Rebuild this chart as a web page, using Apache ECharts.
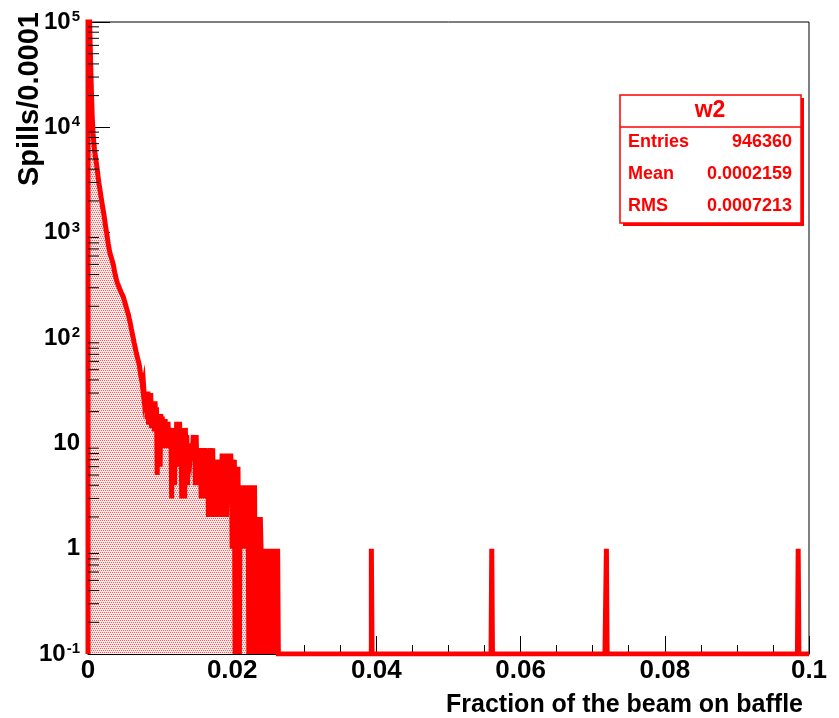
<!DOCTYPE html>
<html>
<head>
<meta charset="utf-8">
<script src="https://cdn.jsdelivr.net/npm/echarts@6/dist/echarts.min.js"></script>
<style>
  html, body { margin: 0; padding: 0; background: #fff; }
  #echarts { width: 839px; height: 718px; }
</style>
</head>
<body>
<div id="echarts"></div>
<script>
// histogram w2: bin width 0.0001, counts of bins 0..263
const binWidth = 0.0001
const nBins = 1000
const counts = [
  420000, 210000, 115000, 62000, 34000, 19000, 12000, 8800, 7200, 6200,
  5500, 4900, 4400, 3900, 3400, 3000, 2700, 2450, 2200, 2000,
  1800, 1650, 1500, 1350, 1200, 1080, 980, 880, 790, 720,
  660, 620, 590, 560, 530, 500, 460, 420, 395, 365,
  345, 330, 318, 305, 292, 280, 272, 262, 255, 245,
  232, 220, 208, 196, 185, 178, 168, 155, 145, 134,
  123, 114, 106, 98, 90, 84, 78, 72, 68, 63,
  60, 56, 50, 45, 41, 38, 33, 36, 28, 31,
  20, 30, 17, 31, 15, 28, 22, 30, 14, 25,
  18, 24, 13, 25, 16, 22, 5, 19, 8, 17,
  6, 19, 11, 18, 9, 16, 12, 17, 9, 15,
  11, 16, 10, 14, 9, 14, 3, 12, 6, 14,
  4, 11, 8, 16, 7, 14, 6, 16, 9, 12,
  3, 14, 5, 13, 3, 14, 8, 12, 4, 10,
  7, 9, 8, 10, 7, 9, 12, 7, 11, 4,
  12, 6, 9, 5, 9, 4, 8, 3, 9, 5,
  7, 4, 9, 3, 8, 6, 9, 2, 8, 4,
  9, 2, 6, 9, 2, 7, 3, 5, 2, 7,
  4, 2, 6, 3, 7, 2, 8, 4, 2, 7,
  3, 8, 2, 5, 8, 3, 6, 3, 8, 4,
  1, 7, 3, 7, 0, 5, 2, 0, 6, 1,
  0, 4, 1, 3, 1, 4, 2, 1, 4, 1,
  3, 1, 4, 0, 3, 1, 0, 4, 0, 2,
  0, 4, 0, 1, 2, 0, 1, 2, 0, 2,
  1, 0, 1, 0, 1, 0, 1, 1, 0, 1,
  0, 1, 0, 1, 0, 1, 0, 1, 0, 1,
  0, 1, 0, 1
]
// isolated single entries far in the tail
const spikeBins = [393, 560, 719, 985]
const spikeCounts = [1, 1, 1, 1]

// stats box
const statName = 'w2'
const statLabels = ['Entries', 'Mean', 'RMS']
const statValues = ['946360', '0.0002159', '0.0007213']

const yMin = 0.1
const yMax = 100000
const font = 'Liberation Sans, Arial, Helvetica, sans-serif'
const red = '#ff0000'

// full bin array
let bins = new Array(nBins).fill(0)
counts.forEach((c, i) => { bins[i] = c })
spikeBins.forEach((b, i) => { bins[b] = spikeCounts[i] })

// step points: empty bins sit on the bottom of the log axis
let points = [[0, yMin]]
bins.forEach((c, i) => {
  points.push([i * binWidth, Math.max(c, yMin)])
})
points.push([nBins * binWidth, Math.max(bins[nBins - 1], yMin)])

// minor tick values for the log axis (2..9 x 10^n)
let minorVals = []
for (let e = -1; e < 5; e++) {
  for (let k = 2; k <= 9; k++) minorVals.push([0, k * Math.pow(10, e)])
}

// dotted fill like the ROOT pattern
let pat = document.createElement('canvas')
pat.width = 4
pat.height = 4
let pc = pat.getContext('2d')
pc.fillStyle = 'rgb(255,232,232)'
pc.fillRect(0, 0, 4, 4)
pc.fillStyle = 'rgb(255,90,90)'
pc.fillRect(0, 0, 1, 1)
pc.fillRect(2, 0, 1, 1)
pc.fillRect(1, 2, 1, 1)
pc.fillRect(3, 2, 1, 1)

let myChart = echarts.init(document.getElementById('echarts'), null, { renderer: 'canvas' })

let statsGraphic = [
  // shadow
  { type: 'rect', shape: { x: 623, y: 98, width: 181, height: 128 }, style: { fill: red }, z: 100 },
  { type: 'rect', shape: { x: 620, y: 95, width: 181, height: 128 }, style: { fill: '#fff', stroke: red, lineWidth: 1.5 }, z: 101 },
  { type: 'line', shape: { x1: 620, y1: 127, x2: 801, y2: 127 }, style: { stroke: red, lineWidth: 1.5 }, z: 102 },
  { type: 'text', x: 710, y: 111, style: { text: statName, fill: red, font: 'bold 23px ' + font, align: 'center', verticalAlign: 'middle' }, z: 103 }
]
statLabels.forEach((lab, i) => {
  let y = 142 + i * 32
  statsGraphic.push({ type: 'text', x: 628, y: y, style: { text: lab, fill: red, font: 'bold 18px ' + font, align: 'left', verticalAlign: 'middle' }, z: 103 })
  statsGraphic.push({ type: 'text', x: 792, y: y, style: { text: statValues[i], fill: red, font: 'bold 18px ' + font, align: 'right', verticalAlign: 'middle' }, z: 103 })
})

let options = {
  animation: false,
  backgroundColor: '#fff',
  grid: {
    left: 88, right: 30, top: 22, bottom: 62,
    show: true, borderColor: '#000', borderWidth: 1, backgroundColor: '#fff'
  },
  xAxis: {
    type: 'value',
    min: 0, max: 0.1, interval: 0.02,
    name: 'Fraction of the beam on baffle',
    nameLocation: 'end',
    nameGap: -6,
    nameTextStyle: {
      align: 'right', verticalAlign: 'top', padding: [39, 0, 0, 0],
      fontFamily: font, fontWeight: 'bold', fontSize: 25, color: '#000'
    },
    axisLine: { show: true, onZero: false, lineStyle: { color: '#000', width: 1 } },
    axisTick: { inside: true, length: 18, lineStyle: { color: '#000' } },
    minorTick: { show: true, splitNumber: 4, length: 9, lineStyle: { color: '#000' } },
    splitLine: { show: false },
    axisLabel: {
      margin: 4,
      fontFamily: font, fontWeight: 'bold', fontSize: 26, color: '#000',
      formatter: v => String(Math.round(v * 100) / 100)
    }
  },
  yAxis: {
    type: 'log',
    logBase: 10,
    min: yMin, max: yMax,
    splitNumber: 6,
    axisLine: { show: true, onZero: false, lineStyle: { color: '#000', width: 1 } },
    axisTick: { inside: true, length: 22, lineStyle: { color: '#000' } },
    splitLine: { show: false },
    axisLabel: {
      margin: 8,
      formatter: v => {
        let e = Math.round(Math.log10(v))
        if (e === 0) return '{b|1}'
        if (e === 1) return '{b|10}'
        return '{b|10}{s|' + (e < 0 ? '-' : '') + Math.abs(e) + '}'
      },
      rich: {
        b: { fontFamily: font, fontWeight: 'bold', fontSize: 24, color: '#000' },
        s: { fontFamily: font, fontWeight: 'bold', fontSize: 15, color: '#000', verticalAlign: 'top', padding: [0, 0, 10, 1] }
      }
    }
  },
  graphic: [
    {
      type: 'text', x: 30, y: 12, rotation: Math.PI / 2,
      style: { text: 'Spills/0.0001', fill: '#000', font: 'bold 29px ' + font, align: 'right', verticalAlign: 'middle' }
    }
  ].concat(statsGraphic),
  series: [
    {
      name: 'w2',
      type: 'line',
      step: 'end',
      data: points,
      showSymbol: false,
      clip: true,
      lineStyle: { color: red, width: 5, cap: 'butt', join: 'miter' },
      areaStyle: { origin: 'start', color: { image: pat, repeat: 'repeat' }, opacity: 1 },
      z: 2
    },
    {
      type: 'custom',
      data: minorVals,
      renderItem: (params, api) => {
        let p = api.coord([0, api.value(1)])
        return {
          type: 'line',
          shape: { x1: p[0], y1: p[1], x2: p[0] + 11, y2: p[1] },
          style: { stroke: '#000', lineWidth: 1 }
        }
      },
      z: 5,
      silent: true
    }
  ]
}

myChart.setOption(options)
</script>
</body>
</html>
